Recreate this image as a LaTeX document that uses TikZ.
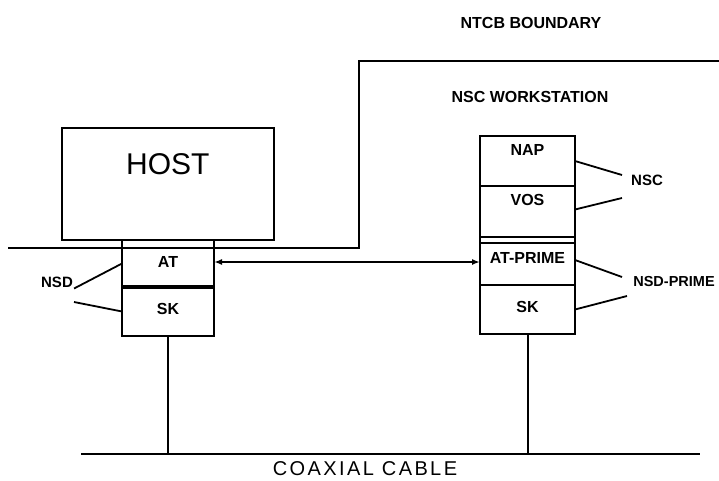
\documentclass[tikz,border=0pt]{standalone}
\usepackage{fontspec}
\setmainfont{Liberation Sans}
\usetikzlibrary{arrows.meta,positioning}

\begin{document}
\begin{tikzpicture}[
  x=1pt, y=-1pt,
  >={Latex[length=8pt,width=6pt]},
  wire/.style={line width=1.8pt, draw=black},
  hostbox/.style={
    rectangle,
    draw,
    line width=1.8pt,
    minimum width=212pt,
    minimum height=112pt,
    inner sep=0pt,
    text depth=40pt,
    font=\fontsize{30}{30}\selectfont
  },
  layer/.style={
    rectangle,
    draw,
    line width=1.8pt,
    minimum width=95pt,
    inner sep=0pt,
    outer sep=0pt,
    font=\bfseries\fontsize{16}{16}\selectfont
  },
  tag/.style={font=\bfseries\fontsize{15}{15}\selectfont, inner sep=1pt},
  title/.style={font=\bfseries\fontsize{16}{16}\selectfont}
]
  \useasboundingbox (0,0) rectangle (719,480);

  \node[title] (ntcb) at (531,23) {NTCB BOUNDARY};
  \node[title] (nscws) at (530,97) {NSC WORKSTATION};

  \node[hostbox, anchor=north west] (host) at (61,127) {HOST};
  \node[layer, minimum width=92pt, minimum height=39pt, text depth=11pt, anchor=north west] (at) at (122,248) {AT};
  \node[layer, minimum width=92pt, minimum height=49pt, text depth=5pt, below=0pt of at] (sk) {SK};
  \draw[wire] (at.north west) -- (at.north west |- host.south);
  \draw[wire] (at.north east) -- (at.north east |- host.south);
  \draw[line width=3.5pt] (at.south west) -- (at.south east);

  \node[layer, minimum height=50pt, text depth=22pt, anchor=north west] (nap) at (480,136) {NAP};
  \node[layer, minimum height=51pt, text depth=23pt, below=0pt of nap] (vos) {VOS};
  \node[layer, minimum height=6pt, below=0pt of vos] (gap) {};
  \node[layer, minimum height=42pt, text depth=12pt, below=0pt of gap] (atp) {AT-PRIME};
  \node[layer, minimum height=49pt, text depth=5pt, below=0pt of atp] (skp) {SK};

  % NTCB boundary
  \coordinate (bL) at (8,248);
  \coordinate (bC) at (359,248);
  \coordinate (bT) at (359,61);
  \coordinate (bR) at (719,61);
  \draw[wire] (bL) -- (at.north west);
  \draw[wire] (at.north east) -- (bC) -- (bT) -- (bR);

  \draw[wire, <->] ([yshift=5.5pt]at.east) -- ([yshift=5.5pt]at.east -| atp.west);

  \node[tag] (nsd) at (57,282) {NSD};
  \coordinate (nsdend) at (74,302);
  \draw[wire] ([yshift=4pt]at.west) -- (nsd.south east);
  \draw[wire] (sk.west) -- (nsdend);

  \node[tag] (nsc) at (647,180) {NSC};
  \coordinate (nsctop) at (622,175);
  \coordinate (nscbot) at (622,198);
  \draw[wire] (nap.east) -- (nsctop);
  \draw[wire] ([yshift=2pt]vos.east) -- (nscbot);

  \node[tag, font=\bfseries\fontsize{14.5}{14.5}\selectfont] (nsdp) at (674,282) {NSD-PRIME};
  \coordinate (nsdptop) at (622,277);
  \coordinate (nsdpbot) at (627,296);
  \draw[wire] ([yshift=4pt]atp.east) -- (nsdptop);
  \draw[wire] (skp.east) -- (nsdpbot);

  % coaxial cable
  \coordinate (coaxL) at (81,454);
  \coordinate (coaxR) at (700,454);
  \draw[wire, line width=2pt] (coaxL) -- (coaxR);
  \draw[wire] (sk.south) -- (sk.south |- coaxL);
  \draw[wire] ([xshift=0.5pt]skp.south) -- ([xshift=0.5pt]skp.south |- coaxL);
  \node[font=\fontsize{20}{20}\selectfont\addfontfeature{LetterSpace=12}, inner sep=0pt] (coax) at (365,469) {COAXIAL CABLE};
\end{tikzpicture}
\end{document}
